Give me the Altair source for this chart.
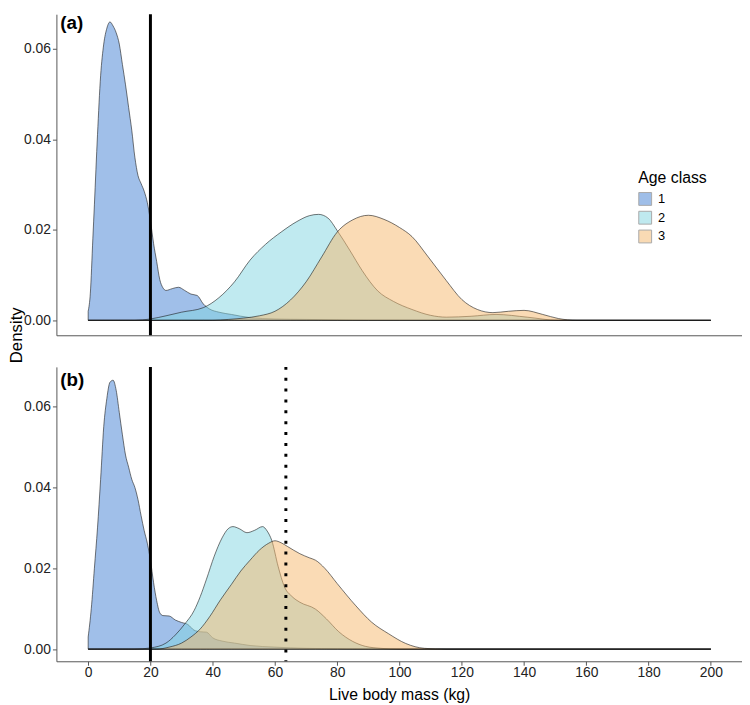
import altair as alt
import pandas as pd

# ---------------- data ----------------
classes = ["1", "2", "3"]
class_colors = ["#417fd3", "#81d5e1", "#f5b76b"]

# panel (a)
a1_x = [0, 0.7, 1.5, 2, 3, 4, 5, 6, 7, 8, 9, 10, 11, 12, 13, 14, 15, 16, 17, 18, 19, 20, 21, 22, 23, 24, 25, 27, 29, 31, 33, 35, 37, 39, 42, 46, 52, 60, 70, 80, 90, 200]
a1_y = [0.002, 0.006, 0.018, 0.0255, 0.041, 0.054, 0.061, 0.0645, 0.0659, 0.065, 0.0635, 0.061, 0.0565, 0.052, 0.047, 0.042, 0.036, 0.032, 0.0302, 0.0285, 0.026, 0.022, 0.017, 0.013, 0.009, 0.0072, 0.0066, 0.0070, 0.0073, 0.0066, 0.0058, 0.0055, 0.0036, 0.0025, 0.0018, 0.0013, 0.0006, 0.0003, 0.0002, 0.0001, 0, 0]

a2_x = [0, 15, 20, 25, 30, 37, 42, 47, 52, 57, 62, 67, 71, 74, 77, 80, 84, 88, 93, 98, 104, 110, 115, 123, 131, 141, 151, 200]
a2_y = [0, 0, 0.0003, 0.001, 0.0018, 0.0028, 0.005, 0.0085, 0.0133, 0.0168, 0.0195, 0.0218, 0.0231, 0.0234, 0.0226, 0.0198, 0.0155, 0.011, 0.0065, 0.0042, 0.0024, 0.0011, 0.0007, 0.0009, 0.0013, 0.0007, 0, 0]

a3_x = [0, 40, 45, 50, 55, 60, 65, 70, 75, 80, 85, 90, 95, 100, 104, 109, 115, 120, 125, 130, 135, 140, 146, 151, 157, 200]
a3_y = [0, 0, 0.0002, 0.0005, 0.001, 0.002, 0.0045, 0.0085, 0.014, 0.0195, 0.0222, 0.0232, 0.0223, 0.0205, 0.0185, 0.0142, 0.0088, 0.0046, 0.0024, 0.0017, 0.002, 0.0022, 0.0013, 0.0004, 0, 0]

# panel (b)
b1_x = [0, 1, 2, 3, 4, 5, 6, 7, 8, 9, 10, 11, 12, 13, 14, 15, 16, 17, 18, 19, 20, 21, 22, 23, 24, 26, 28, 30, 32, 34, 36, 38, 40, 43, 47, 52, 60, 70, 80, 90, 200]
b1_y = [0.003, 0.010, 0.020, 0.030, 0.042, 0.055, 0.062, 0.0660, 0.0665, 0.064, 0.0585, 0.053, 0.048, 0.045, 0.042, 0.040, 0.037, 0.033, 0.0293, 0.0262, 0.022, 0.0165, 0.012, 0.009, 0.0083, 0.0082, 0.0072, 0.0066, 0.0061, 0.0047, 0.0043, 0.0042, 0.0028, 0.0020, 0.0015, 0.0009, 0.0005, 0.0002, 0.0001, 0, 0]

b2_x = [0, 15, 20, 25, 28, 31, 34, 36, 38, 40.5, 43, 45, 46.5, 48.5, 51, 53.5, 56, 57.5, 59, 61, 63, 65.5, 68, 73, 76.5, 80.5, 85, 89, 94, 100, 200]
b2_y = [0, 0, 0.0003, 0.0015, 0.0035, 0.0062, 0.0095, 0.013, 0.0173, 0.023, 0.0275, 0.0298, 0.0303, 0.0298, 0.0288, 0.0294, 0.0303, 0.0292, 0.0268, 0.0205, 0.0155, 0.013, 0.0116, 0.0099, 0.0075, 0.0043, 0.0019, 0.0007, 0.0002, 0, 0]

b3_x = [0, 22, 26, 30, 33, 36, 39, 42.5, 46, 49, 52, 55, 58, 60, 62, 64, 68, 71, 73, 76, 80, 86, 91, 96.5, 102, 108, 115, 200]
b3_y = [0, 0, 0.0005, 0.0015, 0.003, 0.005, 0.008, 0.0122, 0.016, 0.0193, 0.022, 0.0245, 0.0262, 0.0268, 0.0263, 0.0254, 0.0236, 0.0226, 0.022, 0.0200, 0.0162, 0.0107, 0.0067, 0.0038, 0.0014, 0.0002, 0, 0]

cutoff = [20]
threshold = [63.5]
x_ticks = list(range(0, 201, 20))
y_ticks = [0, 0.02, 0.04, 0.06]

FONT = "Liberation Sans"


def frame(xs, ys, cls):
    return pd.DataFrame({"mass": xs, "density": ys, "age": cls})


top_df = pd.concat([frame(a1_x, a1_y, "1"), frame(a2_x, a2_y, "2"), frame(a3_x, a3_y, "3")])
bot_df = pd.concat([frame(b1_x, b1_y, "1"), frame(b2_x, b2_y, "2"), frame(b3_x, b3_y, "3")])

xscale = alt.Scale(domain=[-10.2, 210], nice=False, zero=False)
cscale = alt.Scale(domain=classes, range=class_colors)

yaxis = alt.Axis(values=y_ticks, format=".2f", title=None, grid=False, tickSize=4,
                 tickColor="#555", domainColor="#555", labelFontSize=14, labelColor="#222",
                 labelPadding=2, labelFont=FONT)


def panel(df, ydomain, height, xaxis, legend, label, extra):
    yscale = alt.Scale(domain=ydomain, nice=False, zero=False)
    layers = []
    for cls in classes:
        layers.append(
            alt.Chart(df).transform_filter(alt.datum.age == cls)
            .mark_area(interpolate="monotone", fillOpacity=0.5, stroke="#1a1a1a", strokeWidth=0.6)
            .encode(
                x=alt.X("mass:Q", scale=xscale, axis=xaxis),
                y=alt.Y("density:Q", scale=yscale, axis=yaxis),
                color=alt.Color("age:N", scale=cscale, legend=legend),
            )
        )
    layers.append(
        alt.Chart(pd.DataFrame({"v": cutoff})).mark_rule(color="black", strokeWidth=3)
        .encode(x=alt.X("v:Q", scale=xscale))
    )
    layers.extend(extra)
    layers.append(
        alt.Chart(pd.DataFrame({"t": [label[0]]}))
        .mark_text(font=FONT, fontSize=19, fontWeight="bold", align="left", baseline="top", color="black")
        .encode(x=alt.value(4), y=alt.value(label[1]), text="t:N")
    )
    return alt.layer(*layers).properties(width=694, height=height)


legend = alt.Legend(
    title="Age class", orient="none", legendX=589, legendY=158,
    titleFont=FONT, titleFontSize=16, titleFontWeight="normal", titleColor="black", titlePadding=6,
    labelFont=FONT, labelFontSize=13, labelColor="black", labelOffset=6,
    symbolType="square", symbolSize=169, symbolStrokeColor="#555", symbolStrokeWidth=1,
    symbolOpacity=0.5, rowPadding=1,
)

density_title = (
    alt.Chart(pd.DataFrame({"t": ["Density"]}))
    .mark_text(font=FONT, fontSize=17, angle=270, align="center", baseline="middle", color="black")
    .encode(x=alt.value(-40), y=alt.value(325), text="t:N")
)

top = panel(
    top_df, [-0.0033, 0.0676], 325,
    alt.Axis(labels=False, ticks=False, title=None, grid=False, domainColor="#555"),
    legend, ("(a)", 0), [density_title],
)

dotted = (
    alt.Chart(pd.DataFrame({"v": threshold}))
    .mark_rule(color="black", strokeWidth=3, strokeDash=[3, 8])
    .encode(x=alt.X("v:Q", scale=xscale))
)

bottom = panel(
    bot_df, [-0.003, 0.0698], 298,
    alt.Axis(values=x_ticks, title="Live body mass (kg)", grid=False, tickSize=4, tickColor="#555",
             domainColor="#555", labelFontSize=14, labelColor="#222", labelPadding=0, labelFont=FONT,
             titleFont=FONT, titleFontSize=16, titleFontWeight="normal", titleColor="black", titlePadding=8),
    None, ("(b)", 4), [dotted],
)

chart = (
    alt.vconcat(top, bottom, spacing=32, bounds="flush")
    .resolve_scale(color="independent")
    .resolve_legend(color="independent")
    .properties(padding=0, background="white")
    .configure_view(stroke=None)
)

chart.save("out.html", embed_options={"renderer": "svg", "actions": False})
